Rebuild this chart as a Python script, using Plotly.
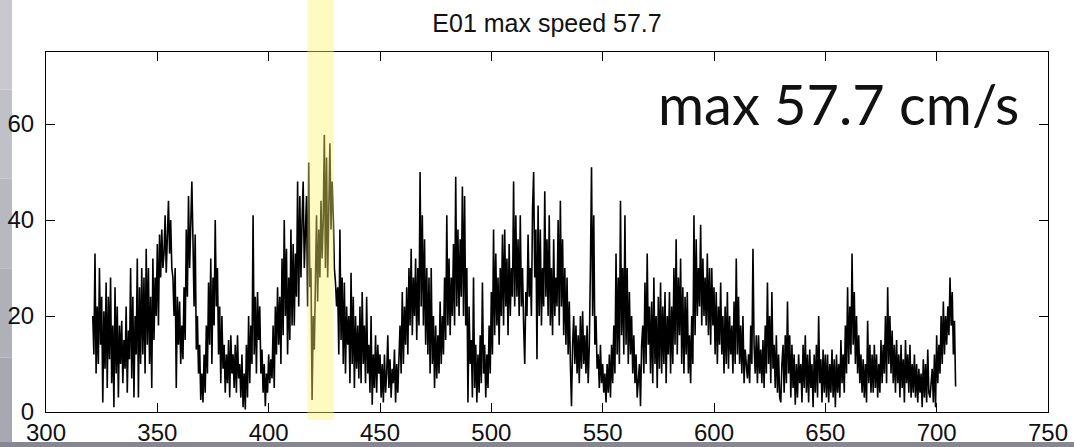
import plotly.graph_objects as go

# ---- data ----
x_start = 321.0
x_step = 0.5
speed = [
    20, 12, 33, 8, 22, 10, 30, 14, 24, 2, 21, 9, 27, 5, 24, 11, 28, 6, 18, 1,
    26, 8, 22, 3, 18, 10, 19, 6, 15, 9, 22, 4, 17, 11, 30, 7, 24, 3, 20, 12,
    32, 3, 26, 10, 30, 12, 28, 8, 34, 14, 30, 10, 24, 5, 32, 15, 28, 20, 35, 18,
    37, 28, 38, 30, 33, 41, 29, 36, 44, 33, 40, 30, 28, 20, 30, 5, 24, 14, 23, 10,
    18, 11, 26, 15, 38, 24, 45, 30, 41, 48, 36, 22, 37, 13, 20, 8, 14, 2.5, 8, 2,
    12, 4, 18, 8, 27, 14, 32, 10, 28, 18, 40, 22, 30, 12, 22, 6, 20, 9, 14, 4,
    12, 6, 15, 3, 16, 8, 12, 5, 14, 4, 16, 7, 10, 3, 12, 1, 8, 0.5, 14, 3,
    20, 6, 18, 10, 41, 12, 24, 8, 25, 15, 22, 8, 13, 4, 10, 1.2, 8, 4, 12, 6,
    11, 7, 18, 5, 22, 12, 26, 14, 24, 10, 32, 16, 40, 20, 34, 12, 28, 15, 38, 18,
    35, 18, 33, 24, 48, 22, 45, 28, 40, 48, 30, 36, 45, 22, 52, 26, 30, 2.5, 20, 13,
    30, 41, 23, 38, 28, 44, 32, 40, 57.7, 30, 53, 28, 42, 56, 38, 48, 41, 30, 27, 22,
    26, 12, 38, 15, 28, 10, 27, 8, 22, 14, 20, 6, 29, 10, 24, 5, 20, 9, 18, 7,
    22, 6, 25, 10, 18, 6, 24, 8, 14, 4, 20, 1.5, 12, 5, 16, 4, 14, 8, 12, 3,
    10, 2, 12, 4, 8, 16, 5, 11, 3, 9, 6, 13, 2, 10, 4, 12, 18, 8, 25, 10,
    22, 14, 26, 12, 30, 18, 34, 16, 28, 20, 32, 15, 30, 18, 50, 22, 41, 18, 36, 14,
    30, 12, 28, 8, 30, 10, 20, 5, 18, 7, 16, 8, 23, 10, 20, 12, 28, 15, 41, 18,
    32, 16, 28, 20, 35, 18, 49, 22, 38, 20, 36, 24, 47, 20, 45, 18, 30, 2, 22, 10,
    15, 3, 28, 5, 14, 2, 12, 4, 16, 6, 27, 8, 14, 3, 12, 5, 18, 8, 25, 12,
    38, 16, 33, 18, 28, 14, 30, 20, 37, 18, 38, 22, 32, 16, 35, 20, 30, 24, 48, 22,
    41, 24, 36, 20, 41, 22, 30, 18, 10, 25, 20, 37, 24, 30, 20, 42, 50, 28, 38, 11,
    43, 20, 38, 18, 30, 22, 46, 24, 36, 20, 41, 18, 30, 16, 36, 20, 28, 22, 40, 18,
    44, 22, 36, 16, 30, 14, 28, 12, 23, 10, 1.2, 14, 20, 10, 18, 8, 16, 6, 20, 9,
    21, 10, 16, 8, 18, 6, 14, 30, 51, 20, 41, 14, 20, 9, 12, 5, 14, 6, 10, 4,
    8, 2, 10, 4, 12, 3, 14, 6, 18, 8, 33, 12, 28, 10, 44, 16, 30, 12, 41, 14,
    30, 10, 25, 12, 20, 8, 16, 6, 12, 3, 7, 10, 1.2, 14, 18, 8, 27, 10, 33, 14,
    22, 8, 23, 6, 28, 10, 20, 5, 24, 9, 27, 8, 22, 10, 25, 6, 20, 12, 25, 8,
    22, 10, 30, 14, 36, 12, 28, 16, 32, 10, 26, 8, 24, 12, 25, 8, 16, 6, 20, 10,
    41, 16, 36, 20, 30, 22, 39, 18, 32, 20, 28, 18, 33, 16, 30, 14, 30, 18, 26, 12,
    25, 10, 22, 14, 27, 12, 20, 8, 22, 10, 25, 9, 20, 12, 18, 8, 23, 10, 32, 12,
    24, 10, 18, 8, 20, 6, 13, 9, 7, 12, 6, 18, 10, 34, 14, 8, 16, 6, 16, 8,
    13, 6, 15, 5, 18, 8, 27, 10, 20, 6, 25, 9, 14, 5, 16, 4, 12, 3, 2, 10,
    14, 4, 16, 6, 23, 8, 16, 3, 14, 5, 12, 1.5, 10, 3, 12, 6, 10, 2, 14, 5,
    16, 4, 12, 2, 13, 5, 10, 1, 12, 4, 14, 3, 20, 6, 11, 2, 13, 4, 12, 3,
    12, 2, 10, 4, 13, 3, 11, 1, 12, 4, 10, 3, 15, 6, 12, 4, 18, 8, 26, 10,
    22, 12, 33, 14, 25, 10, 20, 8, 16, 6, 12, 4, 11, 3, 10, 2, 19, 6, 14, 4,
    12, 4, 14, 5, 12, 3, 10, 4, 15, 6, 14, 8, 20, 6, 26, 10, 20, 8, 17, 6,
    14, 4, 15, 6, 12, 3, 14, 5, 11, 2, 15, 6, 12, 4, 14, 3, 10, 4, 12, 3,
    10, 2, 9, 4, 8, 1, 11, 3, 10, 2, 13, 4, 3, 6, 9, 2, 12, 1, 16, 6,
    14, 8, 20, 10, 23, 12, 20, 14, 22, 16, 28, 18, 25, 12, 19, 5.3,
]
x_vals = [x_start + i * x_step for i in range(len(speed))]

highlight_start = 417.4
highlight_end = 429.3
title_text = "E01 max speed 57.7"
note_text = "max 57.7 cm/s"
x_ticks = [300, 350, 400, 450, 500, 550, 600, 650, 700, 750]
y_ticks = [0, 20, 40, 60]

# ---- layout geometry ----
W, H = 1074, 447
ML, MR, MT, MB = 46, 26, 52, 35
PW = W - ML - MR
PH = H - MT - MB


def px_to_paper_x(px):
    return (px - ML) / PW


def py_to_paper_y(py):
    return (H - MB - py) / PH


fig = go.Figure()
fig.add_trace(go.Scatter(
    x=x_vals, y=speed, mode="lines",
    line=dict(color="black", width=1.6),
    hoverinfo="skip", showlegend=False,
))

shapes = []
# left gray frame strip (stepped gradient)
strip_cols = ["#c8c8ce", "#c0c0c7", "#b8b8c0", "#b0b0b9", "#a8a8b2"]
n = len(strip_cols)
for i, c in enumerate(strip_cols):
    shapes.append(dict(
        type="rect", xref="paper", yref="paper", layer="below",
        x0=px_to_paper_x(0), x1=px_to_paper_x(12),
        y0=py_to_paper_y(H * (i + 1) / n), y1=py_to_paper_y(H * i / n),
        fillcolor=c, line=dict(width=0),
    ))
# bottom gray strip
shapes.append(dict(
    type="rect", xref="paper", yref="paper", layer="below",
    x0=px_to_paper_x(0), x1=px_to_paper_x(W),
    y0=py_to_paper_y(H), y1=py_to_paper_y(442),
    fillcolor="#878791", line=dict(width=0),
))
# yellow highlight band
shapes.append(dict(
    type="rect", xref="x", yref="paper", layer="above",
    x0=highlight_start, x1=highlight_end,
    y0=py_to_paper_y(420), y1=py_to_paper_y(0),
    fillcolor="rgba(255,240,110,0.42)", line=dict(width=0),
))

fig.update_layout(
    width=W, height=H,
    margin=dict(l=ML, r=MR, t=MT, b=MB, pad=0, autoexpand=False),
    paper_bgcolor="white", plot_bgcolor="white",
    shapes=shapes,
    showlegend=False,
    title=dict(
        text=title_text, x=0.5, xref="paper", xanchor="center",
        y=1 - 23 / H, yref="container", yanchor="middle",
        font=dict(family="Liberation Sans, Arial, sans-serif", size=25, color="#111"),
        automargin=False,
    ),
    annotations=[dict(
        text=note_text, xref="x", yref="y",
        x=300 + (1021 - ML) * 450 / PW, y=64.3,
        xanchor="right", yanchor="middle", showarrow=False,
        font=dict(family="Lato, sans-serif", size=56, color="#111"),
    )],
)

axis_common = dict(
    showgrid=False, zeroline=False, automargin=False,
    showline=True, linecolor="black", linewidth=1, mirror="allticks",
    ticks="inside", ticklen=9, tickcolor="black", tickwidth=1,
    tickfont=dict(family="Liberation Sans, Arial, sans-serif", size=24, color="#111"),
)
fig.update_xaxes(range=[300, 750], tickvals=x_ticks, ticktext=[str(t) for t in x_ticks],
                 ticklabelstandoff=-1, **axis_common)
fig.update_yaxes(range=[0, 75], tickvals=y_ticks, ticktext=[str(t) for t in y_ticks],
                 ticklabelstandoff=6, **axis_common)

fig.write_html(
    "out.html",
    config={"displayModeBar": False, "staticPlot": True},
    post_script="document.body.style.margin='0px';document.body.style.overflow='hidden';",
)
